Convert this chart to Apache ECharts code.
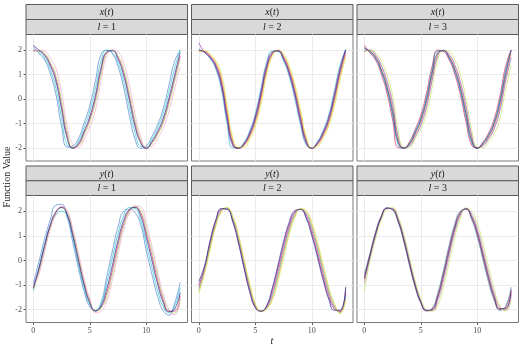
<!DOCTYPE html>
<html><head><meta charset="utf-8">
<script src="https://cdn.jsdelivr.net/npm/echarts@6/dist/echarts.min.js"></script>
<style>html,body{margin:0;padding:0;background:#fff}#c{width:523px;height:349px}</style>
</head><body><div id="c"></div><script>
const tValues = [0,0.5,1,1.5,2,2.5,3,3.5,4,4.5,5,5.5,6,6.5,7,7.5,8,8.5,9,9.5,10,10.5,11,11.5,12,12.5,13];

const xt_l1 = [
 [2.15,1.87,1.6,1.04,0.19,-1.12,-1.95,-1.9,-1.59,-0.97,-0.26,0.76,1.84,2.0,1.86,1.33,0.47,-0.66,-1.62,-2.0,-1.9,-1.52,-1.04,-0.38,0.56,1.53,2.0],
 [2.0,1.91,1.69,1.2,0.45,-0.77,-1.87,-1.97,-1.7,-1.13,-0.48,0.46,1.57,2.0,1.91,1.48,0.72,-0.35,-1.36,-1.92,-1.95,-1.62,-1.18,-0.58,0.29,1.25,2.02],
 [2.2,2.0,1.78,1.36,0.72,-0.42,-1.6,-2.0,-1.8,-1.3,-0.7,0.16,1.3,1.93,1.98,1.63,0.97,-0.04,-1.1,-1.78,-2.0,-1.72,-1.32,-0.78,0.03,0.97,1.9],
 [2.0,1.97,1.83,1.44,0.86,-0.23,-1.47,-1.99,-1.86,-1.39,-0.82,0.0,1.16,1.91,1.99,1.71,1.1,0.13,-0.96,-1.71,-2.0,-1.77,-1.4,-0.89,-0.11,0.82,1.75],
 [1.95,1.97,1.87,1.52,0.99,-0.07,-1.33,-1.95,-1.9,-1.47,-0.92,-0.14,1.03,1.86,2.0,1.78,1.22,0.27,-0.84,-1.64,-1.98,-1.82,-1.46,-0.98,-0.23,0.69,1.62],
 [1.92,2.0,1.96,1.68,1.25,0.28,-1.1,-1.85,-1.95,-1.63,-1.14,-0.44,0.76,1.76,2.0,1.93,1.47,0.58,-0.58,-1.51,-1.95,-1.92,-1.6,-1.18,-0.5,0.41,1.34]
];
const xt_l2 = [
 [2.05,1.9,1.65,1.23,0.38,-0.99,-1.98,-1.98,-1.76,-1.29,-0.59,0.45,1.5,1.96,1.95,1.56,0.93,0.02,-1.04,-1.86,-1.98,-1.73,-1.28,-0.64,0.34,1.38,2.03],
 [2.3,1.91,1.69,1.29,0.51,-0.85,-1.9,-2.0,-1.8,-1.36,-0.68,0.32,1.4,1.92,1.97,1.62,1.02,0.14,-0.92,-1.79,-2.0,-1.76,-1.34,-0.73,0.22,1.26,2.02],
 [2.0,1.93,1.72,1.36,0.63,-0.7,-1.82,-2.0,-1.83,-1.42,-0.78,0.2,1.3,1.88,1.98,1.67,1.1,0.25,-0.8,-1.72,-2.0,-1.8,-1.4,-0.82,0.1,1.15,2.0],
 [1.98,1.95,1.75,1.43,0.75,-0.55,-1.74,-2.0,-1.86,-1.48,-0.88,0.08,1.2,1.84,1.99,1.72,1.19,0.36,-0.68,-1.65,-2.0,-1.84,-1.46,-0.91,-0.02,1.04,1.9],
 [1.95,1.96,1.79,1.49,0.88,-0.41,-1.66,-1.98,-1.9,-1.55,-0.97,-0.05,1.1,1.8,2.0,1.78,1.27,0.48,-0.56,-1.58,-1.98,-1.87,-1.52,-1.0,-0.14,0.92,1.8],
 [1.93,1.98,1.84,1.58,1.04,-0.21,-1.55,-1.95,-1.95,-1.63,-1.1,-0.22,0.96,1.74,2.0,1.85,1.38,0.63,-0.41,-1.48,-1.97,-1.92,-1.6,-1.12,-0.29,0.77,1.66]
];
const xt_l3 = [
 [2.2,1.89,1.59,1.02,0.25,-0.84,-1.97,-1.98,-1.73,-1.23,-0.65,0.24,1.34,2.0,1.95,1.61,1.03,0.18,-0.92,-1.87,-1.98,-1.75,-1.38,-0.8,0.13,1.33,2.02],
 [2.05,1.92,1.65,1.12,0.38,-0.66,-1.86,-2.0,-1.78,-1.31,-0.76,0.08,1.19,1.96,1.97,1.67,1.13,0.32,-0.75,-1.76,-2.0,-1.78,-1.44,-0.91,-0.03,1.15,2.0],
 [2.1,1.95,1.7,1.2,0.5,-0.5,-1.75,-2.0,-1.82,-1.38,-0.85,-0.05,1.05,1.9,1.98,1.72,1.22,0.45,-0.6,-1.66,-2.0,-1.82,-1.5,-1.0,-0.17,1.0,2.0],
 [2.0,1.98,1.75,1.28,0.62,-0.34,-1.64,-1.99,-1.86,-1.45,-0.94,-0.18,0.91,1.84,1.99,1.77,1.31,0.58,-0.45,-1.56,-1.99,-1.86,-1.56,-1.09,-0.31,0.85,1.86],
 [1.95,2.0,1.81,1.38,0.76,-0.16,-1.52,-1.98,-1.91,-1.53,-1.05,-0.33,0.76,1.76,2.0,1.83,1.41,0.72,-0.28,-1.45,-1.98,-1.9,-1.62,-1.2,-0.47,0.7,1.7],
 [1.9,2.0,1.9,1.56,1.0,0.17,-1.3,-1.95,-1.95,-1.6,-1.2,-0.6,0.46,1.6,2.0,1.95,1.6,1.0,0.03,-1.24,-1.95,-1.97,-1.75,-1.4,-0.77,0.35,1.4]
];
const yt_l1 = [
 [-0.95,-0.04,0.88,1.65,2.25,2.28,1.75,0.72,-0.32,-1.26,-1.88,-2.02,-1.71,-0.65,0.39,1.37,2.01,2.08,1.95,1.46,0.4,-0.57,-1.46,-2.04,-2.22,-1.75,-0.89],
 [-1.22,-0.3,0.65,1.4,1.85,2.0,1.8,0.9,-0.18,-1.14,-1.8,-2.05,-1.78,-0.9,0.1,1.09,1.82,2.15,2.11,1.64,0.68,-0.29,-1.21,-1.87,-2.12,-1.86,-1.1],
 [-1.1,-0.3,0.62,1.45,1.98,2.15,1.85,1.0,-0.02,-1.0,-1.72,-2.05,-1.85,-1.15,-0.2,0.82,1.63,2.07,2.15,1.82,0.95,0.0,-0.95,-1.7,-2.08,-1.98,-1.3],
 [-1.15,-0.39,0.53,1.38,1.94,2.18,1.9,1.09,0.08,-0.91,-1.67,-2.05,-1.9,-1.32,-0.4,0.64,1.5,2.02,2.17,1.94,1.13,0.19,-0.78,-1.59,-2.05,-2.06,-1.44],
 [-1.2,-0.47,0.45,1.31,1.9,2.14,1.96,1.19,0.18,-0.83,-1.61,-2.04,-1.94,-1.48,-0.59,0.45,1.38,1.97,2.2,2.06,1.31,0.38,-0.61,-1.47,-2.02,-2.14,-1.57],
 [-1.05,-0.56,0.36,1.25,1.88,2.2,2.02,1.28,0.28,-0.75,-1.56,-2.12,-2.05,-1.65,-0.79,0.27,1.25,1.91,2.22,2.18,1.5,0.57,-0.44,-1.36,-1.97,-2.2,-1.71]
];
const yt_l2 = [
 [-0.85,-0.22,0.81,1.65,2.11,2.08,1.57,0.71,-0.32,-1.27,-1.92,-2.06,-1.84,-1.12,-0.2,0.76,1.55,2.02,2.07,1.72,1.01,0.13,-0.79,-1.57,-2.02,-2.02,-1.07],
 [-1.0,-0.29,0.74,1.6,2.08,2.09,1.62,0.79,-0.24,-1.2,-1.89,-2.06,-1.87,-1.22,-0.32,0.63,1.45,1.97,2.08,1.78,1.11,0.25,-0.67,-1.47,-1.97,-2.06,-1.17],
 [-1.1,-0.36,0.66,1.54,2.06,2.11,1.67,0.86,-0.16,-1.13,-1.85,-2.06,-1.9,-1.33,-0.47,0.49,1.34,1.91,2.08,1.85,1.23,0.39,-0.53,-1.36,-1.91,-2.08,-1.3],
 [-1.2,-0.43,0.58,1.48,2.03,2.12,1.72,0.93,-0.08,-1.06,-1.81,-2.06,-1.93,-1.45,-0.62,0.35,1.23,1.85,2.08,1.92,1.35,0.53,-0.39,-1.25,-1.85,-2.12,-1.42],
 [-1.28,-0.5,0.51,1.43,2.01,2.14,1.77,1.01,0.0,-0.99,-1.78,-2.06,-1.96,-1.54,-0.74,0.22,1.13,1.8,2.1,1.98,1.45,0.65,-0.27,-1.15,-1.8,-2.14,-1.55],
 [-1.3,-0.55,0.45,1.38,1.98,2.15,1.81,1.06,0.06,-0.94,-1.75,-2.06,-1.98,-1.64,-0.87,0.09,1.03,1.74,2.1,2.04,1.55,0.78,-0.15,-1.06,-1.75,-2.15,-1.64]
];
const yt_l3 = [
 [-0.55,0.3,1.17,1.82,2.14,2.05,1.55,0.75,-0.21,-1.09,-1.74,-2.05,-1.94,-1.33,-0.41,0.6,1.47,2.01,2.08,1.66,0.96,0.03,-0.89,-1.62,-2.02,-1.87,-1.08],
 [-0.68,0.24,1.13,1.79,2.13,2.07,1.58,0.8,-0.16,-1.05,-1.71,-2.04,-1.97,-1.41,-0.52,0.49,1.38,1.96,2.09,1.72,1.05,0.14,-0.78,-1.55,-1.99,-1.91,-1.17],
 [-0.74,0.19,1.08,1.76,2.12,2.08,1.62,0.85,-0.1,-1.0,-1.68,-2.03,-2.0,-1.49,-0.63,0.37,1.29,1.91,2.1,1.78,1.14,0.25,-0.68,-1.47,-1.96,-1.95,-1.25],
 [-0.85,0.14,1.03,1.73,2.11,2.1,1.66,0.9,-0.04,-0.95,-1.65,-2.02,-2.03,-1.57,-0.74,0.25,1.2,1.86,2.11,1.84,1.23,0.36,-0.58,-1.39,-1.93,-1.99,-1.33],
 [-0.95,0.08,0.99,1.7,2.1,2.11,1.69,0.95,0.01,-0.91,-1.62,-2.01,-2.04,-1.65,-0.85,0.14,1.11,1.81,2.12,1.9,1.32,0.47,-0.47,-1.32,-1.9,-2.03,-1.42],
 [-1.25,-0.03,0.89,1.63,2.08,2.14,1.77,1.06,0.12,-0.81,-1.56,-1.99,-2.06,-1.83,-1.1,-0.11,0.91,1.71,2.13,2.02,1.52,0.71,-0.25,-1.15,-1.84,-2.05,-1.6]
];

const panelData = [xt_l1, xt_l2, xt_l3, yt_l1, yt_l2, yt_l3];
const panelColors = [
 ['#4f7fd0','#2cc6c6','#221e86','#c8197a','#a6e05a','#f5a6cf'],
 ['#22b8c8','#8e2c9e','#221e86','#e8336a','#f0a030','#d7e65a'],
 ['#d81b60','#1a9aa0','#221e86','#f09a30','#8a4cc0','#c5e35a'],
 ['#4f7fd0','#22c4c4','#221e86','#d81b60','#9ee06a','#f5a6cf'],
 ['#221e86','#8e2c9e','#e8336a','#2cc6c6','#f0a030','#d7e65a'],
 ['#1aa0a8','#d81b60','#221e86','#f09a30','#b48ae0','#c5e35a']
];
const facetVar = ['x','x','x','y','y','y'];
const facetLevel = ['1','2','3','1','2','3'];
const yTicks = [-2,-1,0,1,2];
const tTicks = [0,5,10];
const yTitle = 'Function Value';
const xTitle = 't';

const SERIF = "'Liberation Serif','DejaVu Serif',serif";
const gx = [26, 191.5, 357];
const gw = 161.5;
const gy = [34.5, 195.5];
const gh = [126.5, 127];
const stripTop = [4.5, 166];
const stripH = [15, 14.75];

const grids = [], xAxes = [], yAxes = [], series = [], graphics = [];
for (let i = 0; i < 6; i++) {
  const col = i % 3, row = Math.floor(i / 3);
  grids.push({left: gx[col], top: gy[row], width: gw, height: gh[row], show: true,
    borderColor: '#7a7a7a', borderWidth: 1, backgroundColor: '#fff', containLabel: false});
  xAxes.push({type: 'value', gridIndex: i, min: -0.65, max: 13.65, position: 'bottom',
    axisLine: {show: false, onZero: false},
    axisTick: {show: row === 1, length: 2.5, lineStyle: {color: '#333', width: 0.8}, customValues: tTicks},
    axisLabel: {show: row === 1, customValues: tTicks, color: '#4d4d4d', fontFamily: SERIF, fontSize: 8, margin: 4},
    splitLine: {show: true, lineStyle: {color: '#ebebeb', width: 1}}
  });
  yAxes.push({type: 'value', gridIndex: i, min: -2.52, max: 2.64, position: 'left',
    axisLine: {show: false, onZero: false},
    axisTick: {show: col === 0, length: 2.5, lineStyle: {color: '#333', width: 0.8}, customValues: yTicks},
    axisLabel: {show: col === 0, customValues: yTicks, color: '#4d4d4d', fontFamily: SERIF, fontSize: 8, margin: 4},
    splitLine: {show: true, lineStyle: {color: '#ebebeb', width: 1}}
  });
  const curves = panelData[i];
  curves.forEach((vals, k) => {
    const col_ = panelColors[i][k];
    series.push({type: 'line', xAxisIndex: i, yAxisIndex: i, showSymbol: false, smooth: 0.5,
      z: col_ === '#221e86' ? 4 : 2, silent: true,
      lineStyle: {color: col_, width: 0.8, opacity: 0.85},
      data: tValues.map((t, j) => [t, vals[j]])});
  });
  const sx = gx[col], st = stripTop[row], sh = stripH[row];
  graphics.push({type: 'rect', shape: {x: sx, y: st, width: gw, height: sh},
    style: {fill: '#d9d9d9', stroke: '#5a5a5a', lineWidth: 1}});
  graphics.push({type: 'rect', shape: {x: sx, y: st + sh, width: gw, height: sh},
    style: {fill: '#d9d9d9', stroke: '#5a5a5a', lineWidth: 1}});
  const rich = {
    i: {fontFamily: SERIF, fontStyle: 'italic', fontSize: 10, fill: '#1a1a1a'},
    r: {fontFamily: SERIF, fontSize: 10, fill: '#1a1a1a'}
  };
  graphics.push({type: 'text', x: sx + gw / 2, y: st + sh / 2 + 0.5,
    style: {text: '{i|' + facetVar[i] + '}{r|(}{i|t}{r|)}', rich: rich, align: 'center', verticalAlign: 'middle'}});
  graphics.push({type: 'text', x: sx + gw / 2, y: st + sh * 1.5 + 0.5,
    style: {text: '{i|l}{r| = ' + facetLevel[i] + '}', rich: rich, align: 'center', verticalAlign: 'middle'}});
}
graphics.push({type: 'text', x: 272, y: 341,
  style: {text: xTitle, font: 'italic 10px ' + SERIF, fill: '#1a1a1a', align: 'center', verticalAlign: 'middle'}});
graphics.push({type: 'text', x: 7, y: 177, rotation: Math.PI / 2,
  style: {text: yTitle, font: '10px ' + SERIF, fill: '#1a1a1a', align: 'center', verticalAlign: 'middle'}});

const chart = echarts.init(document.getElementById('c'), null, {renderer: 'canvas'});
chart.setOption({animation: false, backgroundColor: '#fff', grid: grids, xAxis: xAxes, yAxis: yAxes, series: series, graphic: graphics});
</script></body></html>
